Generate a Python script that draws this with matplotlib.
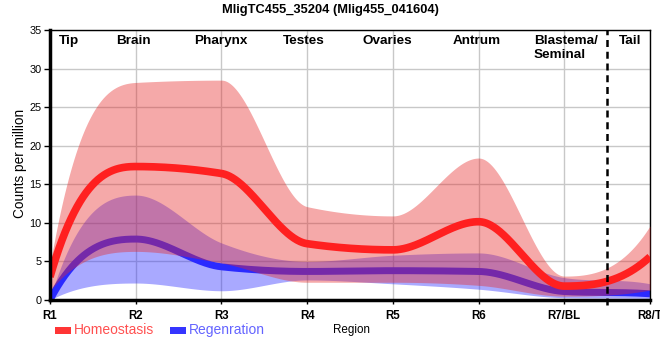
import numpy as np
import matplotlib
matplotlib.use('Agg')
import matplotlib.pyplot as plt
from matplotlib.patches import Rectangle
from matplotlib.transforms import blended_transform_factory

plt.rcParams['font.family'] = ['Liberation Sans', 'DejaVu Sans']

# data
regions = ['R1', 'R2', 'R3', 'R4', 'R5', 'R6', 'R7/BL', 'R8/T']
region_names = ['Tip', 'Brain', 'Pharynx', 'Testes', 'Ovaries', 'Antrum', 'Blastema/', 'Tail']

home_mean = [3.0, 17.3, 16.4, 7.3, 6.5, 10.15, 1.8, 5.6]
home_low = [1.2, 6.3, 4.8, 2.3, 2.3, 1.9, 0.5, 1.3]
home_high = [4.5, 28.2, 28.5, 12.1, 10.9, 18.4, 3.1, 9.6]

regen_mean = [0.0, 7.9, 4.3, 3.7, 3.8, 3.7, 1.1, 0.8]
regen_low = [0.0, 2.2, 1.2, 2.6, 2.1, 1.4, 0.3, 0.2]
regen_high = [0.2, 13.6, 7.4, 5.0, 5.8, 6.1, 2.9, 2.1]

RED = '#ff2020'
BLUE = '#2a2aff'


# monotone cubic through the region points (d3 style slopes)
def smooth(y, n=800):
    y = np.asarray(y, float)
    d = np.diff(y)
    m = np.zeros(len(y))
    for k in range(1, len(y) - 1):
        if d[k - 1] * d[k] > 0:
            m[k] = 2 * np.sign(d[k]) * min(abs(d[k - 1]), abs(d[k]), abs(d[k - 1] + d[k]) / 4)
    m[0] = 2.7 * d[0]
    m[-1] = 2.7 * d[-1]
    xs = np.linspace(1, len(y), n)
    i = np.clip(np.floor(xs - 1).astype(int), 0, len(y) - 2)
    t = xs - 1 - i
    h00 = 2 * t**3 - 3 * t**2 + 1
    h10 = t**3 - 2 * t**2 + t
    h01 = -2 * t**3 + 3 * t**2
    h11 = t**3 - t**2
    return xs, h00 * y[i] + h10 * m[i] + h01 * y[i + 1] + h11 * m[i + 1]


fig = plt.figure(figsize=(6.6, 3.6), dpi=100)
ax = fig.add_axes([50 / 660, 60 / 360, 600 / 660, 270 / 360])

xs, rl = smooth(regen_low)
_, rh = smooth(regen_high)
_, rm = smooth(regen_mean)
_, hl = smooth(home_low)
_, hh = smooth(home_high)
_, hm = smooth(home_mean)

ax.fill_between(xs, rl, rh, color='#2828ff', alpha=0.4, lw=0, zorder=1)
ax.plot(xs, rm, color=BLUE, lw=5, solid_capstyle='butt', zorder=2)
ax.fill_between(xs, hl, hh, color='#e62828', alpha=0.4, lw=0, zorder=3)
ax.plot(xs, hm, color=RED, lw=5.5, solid_capstyle='butt', zorder=4)

ax.axvline(7.5, ymin=-0.02, ymax=1, color='black', lw=1.8, ls=(0, (2.8, 1.9)), clip_on=False, zorder=5)

ax.set_xlim(1, 8)
ax.set_ylim(0, 35)
ax.set_xticks(range(1, 9))
ax.set_xticklabels(regions, fontweight='bold', fontsize=8.3)
ax.set_yticks(range(0, 36, 5))
ax.tick_params(axis='y', labelsize=7.8, length=4, width=1, pad=2)
ax.tick_params(axis='x', length=3, width=1, pad=4)
ax.grid(True, color='#c8c8c8', lw=1)
ax.set_axisbelow(True)
for s in ['top', 'right']:
    ax.spines[s].set_linewidth(1)
for s in ['left', 'bottom']:
    ax.spines[s].set_linewidth(2.5)
    ax.spines[s].set_zorder(6)

# region names along the top
tr = blended_transform_factory(ax.transData, ax.transAxes)
name_x = [1.22, 1.97, 2.99, 3.96, 4.94, 5.98, 6.647, 7.77]
for nx, nm in zip(name_x, region_names):
    ax.text(nx, 1 - 14 / 270, nm, transform=tr, ha='left' if nm == 'Blastema/' else 'center',
            va='baseline', fontsize=9.7, fontweight='bold', zorder=7)
ax.text(6.647, 1 - 28.3 / 270, 'Seminal', transform=tr, ha='left', va='baseline',
        fontsize=9.7, fontweight='bold', zorder=7)

fig.text(0.5, 1 - 13.5 / 360, 'MligTC455_35204 (Mlig455_041604)', ha='center', va='baseline',
         fontsize=9.3, fontweight='bold')
fig.text(20 / 660, 1 - 163 / 360, 'Counts per million', rotation=90, ha='center', va='center',
         fontsize=9.8)
fig.text(351 / 660, 1 - 330 / 360, 'Region', ha='center', va='center', fontsize=8.4)

# legend
fig.add_artist(Rectangle((55 / 660, 1 - 333.5 / 360), 16 / 660, 7 / 360, transform=fig.transFigure,
                         color='#ff3535', lw=0))
fig.text(74 / 660, 1 - 330 / 360, 'Homeostasis', ha='left', va='center', fontsize=10, color='#ff5050')
fig.add_artist(Rectangle((170 / 660, 1 - 333.5 / 360), 16 / 660, 7 / 360, transform=fig.transFigure,
                         color='#3535ff', lw=0))
fig.text(189 / 660, 1 - 330 / 360, 'Regenration', ha='left', va='center', fontsize=10, color='#6464ff')

fig.savefig('out.png', dpi=100)
